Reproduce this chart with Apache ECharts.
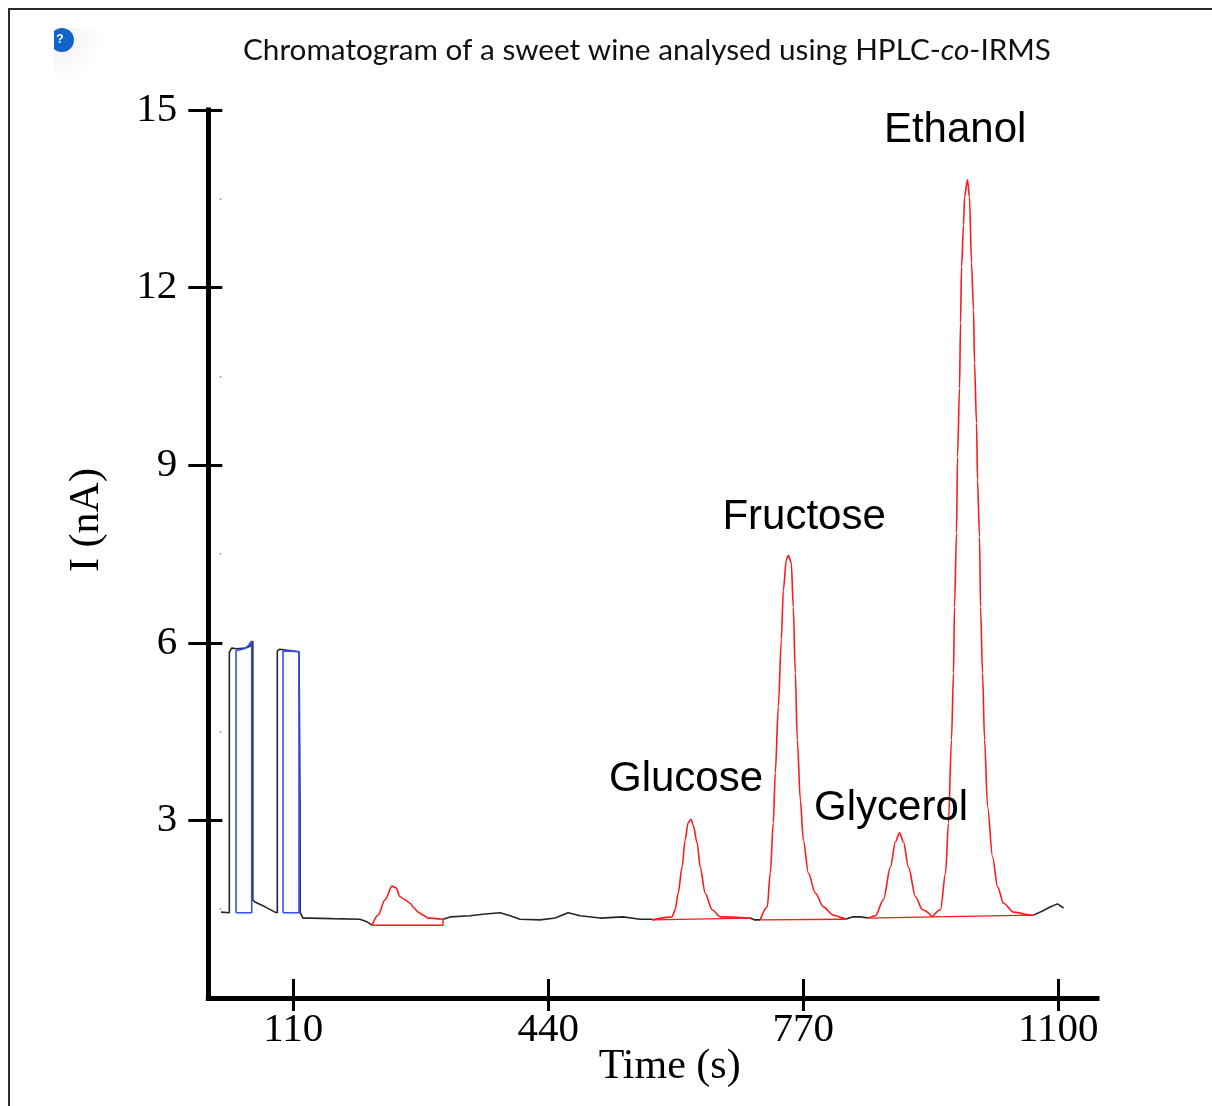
<!DOCTYPE html>
<html>
<head>
<meta charset="utf-8">
<script src="https://cdn.jsdelivr.net/npm/echarts@6/dist/echarts.min.js"></script>
<style>
  html, body { margin: 0; padding: 0; background: #fff; }
  #chart { width: 1212px; height: 1106px; }
</style>
</head>
<body>
<div id="chart"></div>
<script>
// ---------- data ----------
const timeTicks = [110, 440, 770, 1100];
const currentTicks = [3, 6, 9, 12, 15];
const minorDots = [1.5, 4.5, 7.5, 10.5, 13.5];
const peakNames = ['Glucose', 'Fructose', 'Glycerol', 'Ethanol'];

// black trace (not integrated), as separate segments [time s, current nA]
const traceSegA = [[16.5,1.45],[27.2,1.44],[27.2,5.84],[30.3,5.91],[36.8,5.90],[47.5,5.91],[54,5.94],[57.6,6.03],[57.6,1.66],[60.4,1.62],[73.4,1.54],[86.3,1.45],[89.3,1.44],[89.3,5.86],[92,5.89],[105,5.87],[117.4,5.85],[118.7,3.26],[118.9,1.44],[122.6,1.35],[131.6,1.35],[160,1.34],[196.3,1.33],[205,1.29],[211.9,1.23]];
const traceSegB = [[303.8,1.33],[313,1.37],[338.8,1.39],[358.2,1.42],[377.6,1.44],[390.5,1.39],[403.5,1.33],[429.4,1.32],[448.8,1.35],[465.6,1.44],[481.2,1.39],[507,1.35],[536.8,1.37],[558.8,1.33],[574.3,1.33]];
const traceSegC = [[701.2,1.35],[706.4,1.32],[714.2,1.32]];
const traceSegD = [[824.4,1.33],[833.5,1.37],[843.8,1.37],[854.2,1.35]];
const traceSegE = [[1067.9,1.40],[1079.5,1.47],[1089.9,1.54],[1098.9,1.59],[1106.7,1.52]];

// reference gas pulses (blue integration boxes)
const refPulse1 = [[35.9,1.44],[35.9,5.87],[40,5.88],[46,5.90],[51,5.94],[56.2,6.03],[56.2,1.44],[35.9,1.44]];
const refPulse2 = [[96.7,1.44],[96.7,5.86],[107,5.86],[117.4,5.85],[117.4,1.44],[96.7,1.44]];

// integrated peaks (red): curve (increasing time) then return along the integration baseline
const peakSmall = [[211.9,1.23],[219.6,1.40],[228.7,1.66],[237.7,1.89],[242.9,1.86],[248.1,1.71],[254.6,1.66],[261.1,1.60],[266.3,1.52],[271.5,1.45],[277.9,1.40],[284.4,1.35],[303.8,1.33],[303.8,1.23],[211.9,1.23]];
const peakGlucose = [[574.3,1.32],[600.2,1.37],[604.1,1.49],[608,1.77],[613.1,2.21],[617,2.67],[620.9,2.96],[624.8,3.02],[627.4,2.92],[632.6,2.62],[636.5,2.21],[643,1.77],[652,1.49],[662.4,1.37],[701.2,1.35],[701.2,1.32],[574.3,1.32]];
const peakFructose = [[714.2,1.32],[723.3,1.54],[727.2,2.11],[731.1,2.96],[733.7,3.80],[737.6,4.92],[741.5,6.05],[744.1,6.89],[748,7.40],[750.6,7.48],[754.4,7.35],[757,6.60],[759.6,5.49],[762.2,4.36],[766.1,3.34],[770,2.67],[776.5,2.11],[785.6,1.77],[795.9,1.54],[808.9,1.40],[821.8,1.35],[824.4,1.33],[714.2,1.32]];
const peakGlycerol = [[854.2,1.35],[863.3,1.39],[873.6,1.66],[882.7,2.21],[889.2,2.64],[894.4,2.79],[899.5,2.64],[906,2.21],[915.1,1.71],[924.2,1.49],[937.1,1.37],[854.2,1.35]];
const peakEthanol = [[937.1,1.37],[947.5,1.49],[954,2.11],[957.8,2.96],[961.7,4.36],[964.3,5.49],[965.6,6.60],[968.2,7.85],[969.5,9.14],[972.1,10.30],[973.4,11.40],[974.7,12.35],[977.3,13.06],[978.6,13.53],[982.4,13.82],[985,13.53],[987.6,12.42],[990.2,11.62],[991.5,10.73],[994.1,9.71],[995.4,8.75],[998,7.79],[999.3,6.60],[1001.9,5.49],[1004.5,4.36],[1008.4,3.23],[1014.9,2.38],[1021.3,1.88],[1029.1,1.60],[1042,1.45],[1064,1.40],[1067.9,1.40],[937.1,1.37]];

// ---------- chart ----------
const chart = echarts.init(document.getElementById('chart'), null, { renderer: 'canvas' });

const lineBase = { type: 'line', showSymbol: false, symbol: 'none', animation: false, silent: true, smooth: false };
const black = '#262626', red = '#ff1a1a', blue = '#2f4cff';
const traceSeries = [traceSegA, traceSegB, traceSegC, traceSegD, traceSegE].map(d => Object.assign({}, lineBase, {
  data: d, lineStyle: { color: black, width: 1.6 }, z: 2
}));
const pulseSeries = [refPulse1, refPulse2].map(d => Object.assign({}, lineBase, {
  data: d, lineStyle: { color: blue, width: 1.6 }, z: 3
}));
// split each peak into its smooth curve part and its straight integration baseline
function splitPeak(d) {
  let i = 0;
  while (i + 1 < d.length && d[i + 1][0] > d[i][0]) i++;
  return { curve: d.slice(0, i + 1), base: d.slice(i) };
}
const peakSeries = [];
[peakSmall, peakGlucose, peakFructose, peakGlycerol, peakEthanol].forEach(d => {
  const p = splitPeak(d);
  peakSeries.push(Object.assign({}, lineBase, { data: p.curve, smooth: 0.3, smoothMonotone: 'x', lineStyle: { color: red, width: 1.6 }, z: 4 }));
  peakSeries.push(Object.assign({}, lineBase, { data: p.base, lineStyle: { color: red, width: 1.4 }, z: 4 }));
});

const labelSeries = Object.assign({}, lineBase, {
  data: [], z: 10,
  markPoint: {
    symbol: 'circle', symbolSize: 1, silent: true, animation: false,
    itemStyle: { color: 'rgba(0,0,0,0)' },
    label: { show: true, position: 'inside', formatter: '{b}', color: '#000', fontFamily: 'Liberation Sans', fontSize: 42 },
    data: [
      { name: peakNames[0], coord: [618.2, 3.70] },
      { name: peakNames[1], coord: [771, 8.11] },
      { name: peakNames[2], coord: [883.5, 3.20] },
      { name: peakNames[3], coord: [966.4, 14.66] }
    ]
  }
});

const serifAxis = { fontFamily: 'Liberation Serif', fontSize: 41, color: '#000' };

const option = {
  animation: false,
  backgroundColor: '#fff',
  title: {
    left: 642, top: 30, textAlign: 'center',
    text: '{n|Chromatogram of a sweet wine analysed using HPLC-}{i|co}{n|-IRMS}',
    textStyle: {
      fontWeight: 'normal',
      rich: {
        n: { fontFamily: 'Lato', fontSize: 29.7, fontWeight: 'normal', color: '#111' },
        i: { fontFamily: 'Lato', fontSize: 29.7, fontWeight: 'normal', fontStyle: 'italic', color: '#111' }
      }
    }
  },
  grid: { left: 208.3, right: 115, top: 110, bottom: 108, containLabel: false },
  xAxis: [
    {
      type: 'value', min: 0, max: 1150, position: 'bottom',
      axisLine: { show: true, lineStyle: { color: '#000', width: 5, cap: 'square' } },
      axisTick: { show: true, inside: false, length: 13, customValues: timeTicks, lineStyle: { color: '#000', width: 3 } },
      axisLabel: Object.assign({ show: true, customValues: timeTicks, margin: 12, formatter: v => String(v) }, serifAxis),
      splitLine: { show: false },
      name: 'Time (s)', nameLocation: 'middle', nameGap: 48, nameMoveOverlap: false,
      nameTextStyle: { fontFamily: 'Liberation Serif', fontSize: 42, color: '#000', padding: [0, 0, 0, 34] }
    },
    {
      type: 'value', min: 0, max: 1150, position: 'bottom',
      axisLine: { show: false },
      axisTick: { show: true, inside: true, length: 19, customValues: timeTicks, lineStyle: { color: '#000', width: 3 } },
      axisLabel: { show: false }, splitLine: { show: false }
    }
  ],
  yAxis: [
    {
      type: 'value', min: 0, max: 15, interval: 3, position: 'left',
      axisLine: { show: true, lineStyle: { color: '#000', width: 5, cap: 'square' } },
      axisTick: { show: true, inside: false, length: 20, customValues: currentTicks, lineStyle: { color: '#000', width: 3 } },
      axisLabel: Object.assign({ show: true, customValues: currentTicks, margin: 31, formatter: v => String(v) }, serifAxis),
      splitLine: { show: false },
      name: 'I (nA)', nameLocation: 'middle', nameGap: 100, nameRotate: 90,
      nameTextStyle: { fontFamily: 'Liberation Serif', fontSize: 42, color: '#000', padding: [0, 0, 0, 68] }
    },
    {
      type: 'value', min: 0, max: 15, position: 'left',
      axisLine: { show: false },
      axisTick: { show: true, inside: true, length: 14, customValues: currentTicks, lineStyle: { color: '#000', width: 3 } },
      axisLabel: { show: false }, splitLine: { show: false }
    },
    {
      type: 'value', min: 0, max: 15, position: 'left', offset: -13,
      axisLine: { show: false },
      axisTick: { show: true, inside: false, length: 1.5, customValues: minorDots, lineStyle: { color: '#8a8a8a', width: 1.5 } },
      axisLabel: { show: false }, splitLine: { show: false }
    }
  ],
  graphic: [
    { type: 'rect', silent: true, z: 100, shape: { x: 9, y: 9, width: 1400, height: 1400 }, style: { fill: 'none', stroke: '#2b2b2b', lineWidth: 2 } },
    { type: 'rect', silent: true, z: 90, shape: { x: 54, y: 28, width: 50, height: 58 },
      style: { fill: new echarts.graphic.RadialGradient(0.1, 0.15, 0.9, [{ offset: 0, color: 'rgba(0,0,0,0.06)' }, { offset: 1, color: 'rgba(0,0,0,0)' }]) } },
    { type: 'circle', silent: true, z: 91, shape: { cx: 62, cy: 40, r: 12 }, style: { fill: '#1463c8' } },
    { type: 'rect', silent: true, z: 92, shape: { x: 40, y: 24, width: 14, height: 34 }, style: { fill: '#fff' } },
    { type: 'text', silent: true, z: 93, style: { x: 60, y: 40, text: '?', fill: '#fff', font: 'bold 12px Liberation Sans', textAlign: 'center', textVerticalAlign: 'middle' } }
  ],
  series: [].concat(traceSeries, pulseSeries, peakSeries, [labelSeries])
};
chart.setOption(option);
</script>
</body>
</html>
